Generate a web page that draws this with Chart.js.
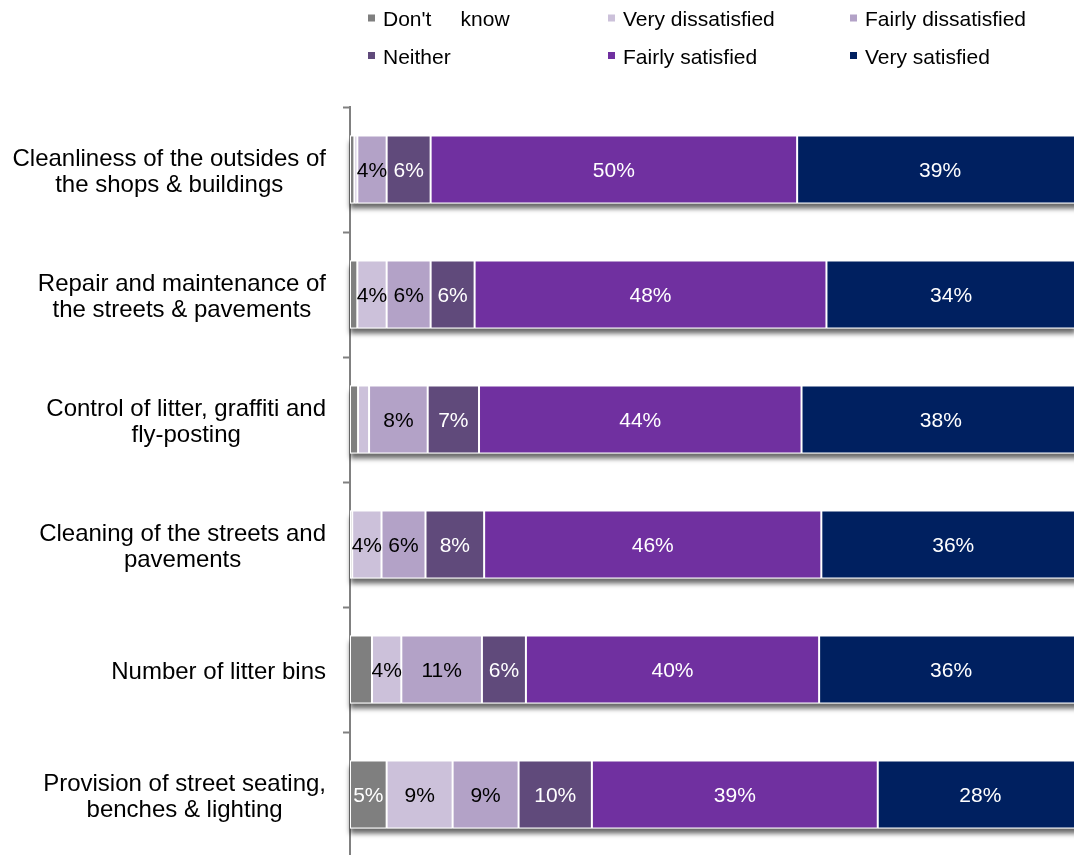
<!DOCTYPE html>
<html>
<head>
<meta charset="utf-8">
<script src="https://cdn.jsdelivr.net/npm/chart.js@4.4.1/dist/chart.umd.min.js"></script>
<style>
    /* page is clipped so the 100% end of the bars runs just past the right edge */
    html, body {
        margin: 0;
        padding: 0;
        background: #fff;
        overflow: hidden;
        width: 1074px;
        height: 855px;
    }
    #chart {
        display: block;
    }
</style>
</head>
<body>
<canvas id="chart" width="1084" height="857"></canvas>
<script>
    // Satisfaction with the town centre environment (% of respondents)
    const categories = [
        ['Cleanliness of the outsides of', 'the shops & buildings'],
        ['Repair and maintenance of', 'the streets & pavements'],
        ['Control of litter, graffiti and', 'fly-posting'],
        ['Cleaning of the streets and', 'pavements'],
        ['Number of litter bins'],
        ['Provision of street seating,', 'benches & lighting']
    ];

    const dontKnow           = [0.6, 1, 1.1, 0.3, 3, 5];
    const veryDissatisfied   = [0.4, 4, 1.5, 4, 4, 9];
    const fairlyDissatisfied = [4, 6, 8, 6, 11, 9];
    const neither            = [6, 6, 7, 8, 6, 10];
    const fairlySatisfied    = [50, 48, 44, 46, 40, 39];
    const verySatisfied      = [39, 34, 38, 36, 36, 28];

    const FONT = '"Liberation Sans", Arial, sans-serif';

    const makeSet = (label, data, color, labelColor) => ({
        label: label,
        data: data,
        backgroundColor: color,
        borderColor: '#ffffff',
        borderWidth: 1,
        borderSkipped: false,
        labelColor: labelColor
    });

    const datasets = [
        makeSet("Don't     know", dontKnow, '#7F7F7F', '#ffffff'),
        makeSet('Very dissatisfied', veryDissatisfied, '#CCC1DA', '#000000'),
        makeSet('Fairly dissatisfied', fairlyDissatisfied, '#B3A2C7', '#000000'),
        makeSet('Neither', neither, '#604A7B', '#ffffff'),
        makeSet('Fairly satisfied', fairlySatisfied, '#7030A0', '#ffffff'),
        makeSet('Very satisfied', verySatisfied, '#002060', '#ffffff')
    ];

    // soft grey shadow under each whole stacked bar
    const barShadow = {
        id: 'barShadow',
        beforeDatasetsDraw(chart) {
            const ctx = chart.ctx;
            const first = chart.getDatasetMeta(0).data;
            const last = chart.getDatasetMeta(chart.data.datasets.length - 1).data;
            ctx.save();
            ctx.shadowColor = 'rgba(0,0,0,0.6)';
            ctx.shadowBlur = 5;
            ctx.shadowOffsetY = 5;
            ctx.fillStyle = '#ffffff';
            first.forEach((el, i) => {
                const a = el.getProps(['base', 'y', 'height'], true);
                const b = last[i].getProps(['x'], true);
                ctx.fillRect(a.base, a.y - a.height / 2, b.x - a.base, a.height);
            });
            ctx.restore();
        }
    };

    // percentage text in the middle of each segment
    const segmentLabels = {
        id: 'segmentLabels',
        afterDatasetsDraw(chart) {
            const ctx = chart.ctx;
            ctx.save();
            ctx.font = '21px ' + FONT;
            ctx.textAlign = 'center';
            ctx.textBaseline = 'alphabetic';
            chart.data.datasets.forEach((ds, d) => {
                chart.getDatasetMeta(d).data.forEach((el, i) => {
                    const v = ds.data[i];
                    if (v < 4) return;
                    const p = el.getProps(['x', 'base', 'y'], true);
                    ctx.fillStyle = ds.labelColor;
                    ctx.fillText(Math.round(v) + '%', (p.x + p.base) / 2, p.y + 7.5);
                });
            });
            ctx.restore();
        }
    };

    // category names: lines centred on each other, block set against the axis
    const categoryLabels = {
        id: 'categoryLabels',
        afterDraw(chart) {
            const ctx = chart.ctx;
            const yScale = chart.scales.y;
            const right = 326;
            const lineH = 26;
            ctx.save();
            ctx.font = '24px ' + FONT;
            ctx.fillStyle = '#000000';
            ctx.textAlign = 'center';
            ctx.textBaseline = 'alphabetic';
            categories.forEach((lines, i) => {
                const w = Math.max(...lines.map(t => ctx.measureText(t).width));
                const cx = right - w / 2;
                const cy = yScale.getPixelForValue(i) + 1;
                lines.forEach((t, j) => {
                    const y = cy + (j - (lines.length - 1) / 2) * lineH + 8;
                    ctx.fillText(t, cx, y);
                });
            });
            ctx.restore();
        }
    };

    // legend laid out as a 3 x 2 grid above the plot
    const gridLegend = {
        id: 'gridLegend',
        afterDraw(chart) {
            const ctx = chart.ctx;
            const cols = [368, 608, 850];
            const rows = [26, 63.5];
            ctx.save();
            ctx.font = '21px ' + FONT;
            ctx.textAlign = 'left';
            ctx.textBaseline = 'alphabetic';
            chart.data.datasets.forEach((ds, k) => {
                const x = cols[k % 3];
                const y = rows[Math.floor(k / 3)];
                ctx.fillStyle = ds.backgroundColor;
                ctx.fillRect(x, y - 11.5, 7, 7);
                ctx.fillStyle = '#000000';
                ctx.fillText(ds.label, x + 15, y);
            });
            ctx.restore();
        }
    };

    const config = {
        type: 'bar',
        data: {
            labels: categories,
            datasets: datasets
        },
        options: {
            indexAxis: 'y',
            responsive: false,
            animation: false,
            events: [],
            barPercentage: 0.544,
            categoryPercentage: 1,
            layout: {
                padding: { top: 107, right: 1, bottom: 0, left: 0 }
            },
            plugins: {
                legend: { display: false },
                tooltip: { enabled: false }
            },
            scales: {
                x: {
                    stacked: true,
                    min: 0,
                    max: 100,
                    display: false
                },
                y: {
                    stacked: true,
                    afterFit: (scale) => { scale.width = 350; },
                    ticks: { display: false },
                    grid: {
                        display: true,
                        drawOnChartArea: false,
                        drawTicks: true,
                        tickLength: 7,
                        tickWidth: 2,
                        tickColor: '#808080',
                        color: '#808080'
                    },
                    border: {
                        display: true,
                        color: '#808080',
                        width: 2
                    }
                }
            }
        },
        plugins: [barShadow, segmentLabels, categoryLabels, gridLegend]
    };

    new Chart(document.getElementById('chart'), config);
</script>
</body>
</html>
